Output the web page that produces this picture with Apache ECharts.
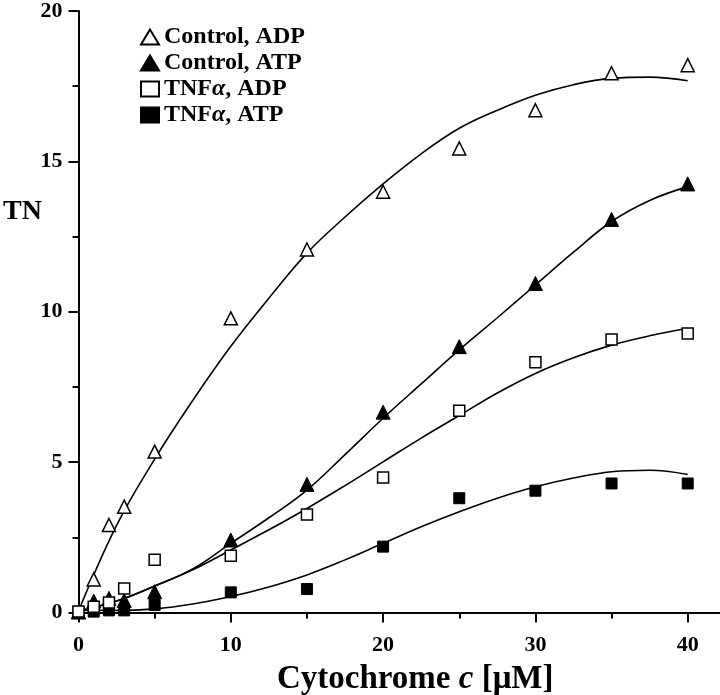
<!DOCTYPE html>
<html>
<head>
<meta charset="utf-8">
<script src="https://cdn.jsdelivr.net/npm/echarts@6/dist/echarts.min.js"></script>
<style>
html,body{margin:0;padding:0;background:#fff;}
#chart{width:720px;height:695px;}
</style>
</head>
<body>
<div id="chart"></div>
<script>
// measured points (cytochrome c in uM, TN)
var xPts = [0, 1, 2, 3, 5, 10, 15, 20, 25, 30, 35, 40];
var ctrlADP = [0.02, 1.1, 2.91, 3.52, 5.35, 9.78, 12.07, 13.99, 15.43, 16.7, 17.93, 18.2];
var ctrlATP = [0.02, 0.38, 0.47, 0.4, 0.69, 2.41, 4.26, 6.66, 8.84, 10.94, 13.07, 14.25];
var tnfADP = [0.03, 0.19, 0.33, 0.8, 1.75, 1.89, 3.26, 4.49, 6.71, 8.32, 9.08, 9.28];
var tnfATP = [0.02, 0.03, 0.07, 0.07, 0.25, 0.67, 0.78, 2.19, 3.8, 4.05, 4.29, 4.29];

// fitted curves every 2.5 uM
var xFit = [0, 2.5, 5, 7.5, 10, 12.5, 15, 17.5, 20, 22.5, 25, 27.5, 30, 32.5, 35, 37.5, 40];
var fitCtrlADP = [0.05, 2.9, 5.1, 7.05, 8.85, 10.45, 11.95, 13.15, 14.25, 15.25, 16.1, 16.7, 17.2, 17.55, 17.76, 17.8, 17.68];
var fitCtrlATP = [0.05, 0.38, 0.88, 1.45, 2.3, 3.15, 4.07, 5.25, 6.46, 7.6, 8.73, 9.8, 10.89, 11.98, 13.0, 13.7, 14.16];
var fitTnfADP = [0.05, 0.38, 0.88, 1.42, 2.08, 2.75, 3.46, 4.22, 5.01, 5.8, 6.55, 7.3, 7.95, 8.47, 8.89, 9.2, 9.45];
var fitTnfATP = [0.08, 0.07, 0.12, 0.28, 0.53, 0.85, 1.25, 1.75, 2.3, 2.85, 3.35, 3.8, 4.18, 4.47, 4.68, 4.73, 4.59];

var xMajor = [0, 10, 20, 30, 40];
var xMinor = [5, 15, 25, 35];

var serif = "'Liberation Serif', 'Times New Roman', serif";

function pairs(xs, ys) {
  return xs.map(function (x, i) { return [x, ys[i]]; });
}

function fitLine(name, ys) {
  return {
    name: name,
    type: 'line',
    data: pairs(xFit, ys),
    symbol: 'none',
    smooth: 0.4,
    lineStyle: {color: '#000', width: 1.6},
    z: 2,
    silent: true
  };
}

function pts(name, ys, symbol, size, filled, z) {
  return {
    name: name,
    type: 'scatter',
    data: pairs(xPts, ys),
    symbol: symbol,
    symbolSize: size,
    itemStyle: filled
      ? {color: '#000', borderColor: '#000', borderWidth: 1, opacity: 1}
      : {color: '#fff', borderColor: '#000', borderWidth: 1.5, opacity: 1},
    z: z
  };
}

var axisFont = {color: '#000', fontFamily: serif, fontWeight: 'bold', fontSize: 22};

var myChart = echarts.init(document.getElementById('chart'));
myChart.setOption({
  animation: false,
  backgroundColor: '#fff',
  grid: {left: 78.5, top: 10.9, right: 0, bottom: 82.5, containLabel: false},
  legend: {
    data: ['Control, ADP', 'Control, ATP', 'TNFa, ADP', 'TNFa, ATP'],
    orient: 'vertical',
    left: 135,
    top: 20,
    itemWidth: 18,
    itemHeight: 15,
    itemGap: 2,
    formatter: function (n) {
      return n.replace('TNFa', 'TNF{i|α}');
    },
    textStyle: {
      fontFamily: serif, fontWeight: 'bold', fontSize: 24, color: '#000',
      rich: {i: {fontFamily: serif, fontWeight: 'bold', fontStyle: 'italic', fontSize: 24, color: '#000'}}
    }
  },
  xAxis: [{
    type: 'value',
    min: 0,
    max: 42.12,
    interval: 10,
    axisLine: {lineStyle: {color: '#000', width: 2}},
    axisTick: {length: 10, customValues: xMajor, lineStyle: {color: '#000', width: 2}},
    splitLine: {show: false},
    axisLabel: Object.assign({
      margin: 22,
      customValues: xMajor,
      formatter: function (v) { return v <= 40 ? String(v) : ''; }
    }, axisFont)
  }, {
    type: 'value',
    position: 'bottom',
    min: 0,
    max: 42.12,
    interval: 5,
    axisLine: {show: false},
    axisTick: {length: 6, customValues: xMinor, lineStyle: {color: '#000', width: 2}},
    axisLabel: {show: false},
    splitLine: {show: false}
  }],
  yAxis: {
    type: 'value',
    min: 0,
    max: 20,
    interval: 5,
    axisLine: {lineStyle: {color: '#000', width: 2}},
    axisTick: {length: 10, lineStyle: {color: '#000', width: 2}},
    minorTick: {show: true, splitNumber: 2, length: 6, lineStyle: {color: '#000', width: 2}},
    splitLine: {show: false},
    axisLabel: Object.assign({margin: 16}, axisFont)
  },
  graphic: [
    {
      type: 'text', left: 3, top: 198,
      style: {text: 'TN', font: 'bold 28px ' + serif, fill: '#000'}
    },
    {
      type: 'text', left: 277, top: 663,
      style: {
        text: 'Cytochrome {i|c} [μM]',
        font: 'bold 33px ' + serif,
        fill: '#000',
        rich: {i: {font: 'italic bold 33px ' + serif, fill: '#000'}}
      }
    }
  ],
  series: [
    fitLine('fit1', fitCtrlADP),
    fitLine('fit2', fitCtrlATP),
    fitLine('fit3', fitTnfADP),
    fitLine('fit4', fitTnfATP),
    pts('Control, ADP', ctrlADP, 'triangle', 13, false, 3),
    pts('Control, ATP', ctrlATP, 'triangle', 14, true, 3),
    pts('TNFa, ATP', tnfATP, 'rect', 11, true, 3),
    pts('TNFa, ADP', tnfADP, 'rect', 11, false, 4)
  ]
});
</script>
</body>
</html>
